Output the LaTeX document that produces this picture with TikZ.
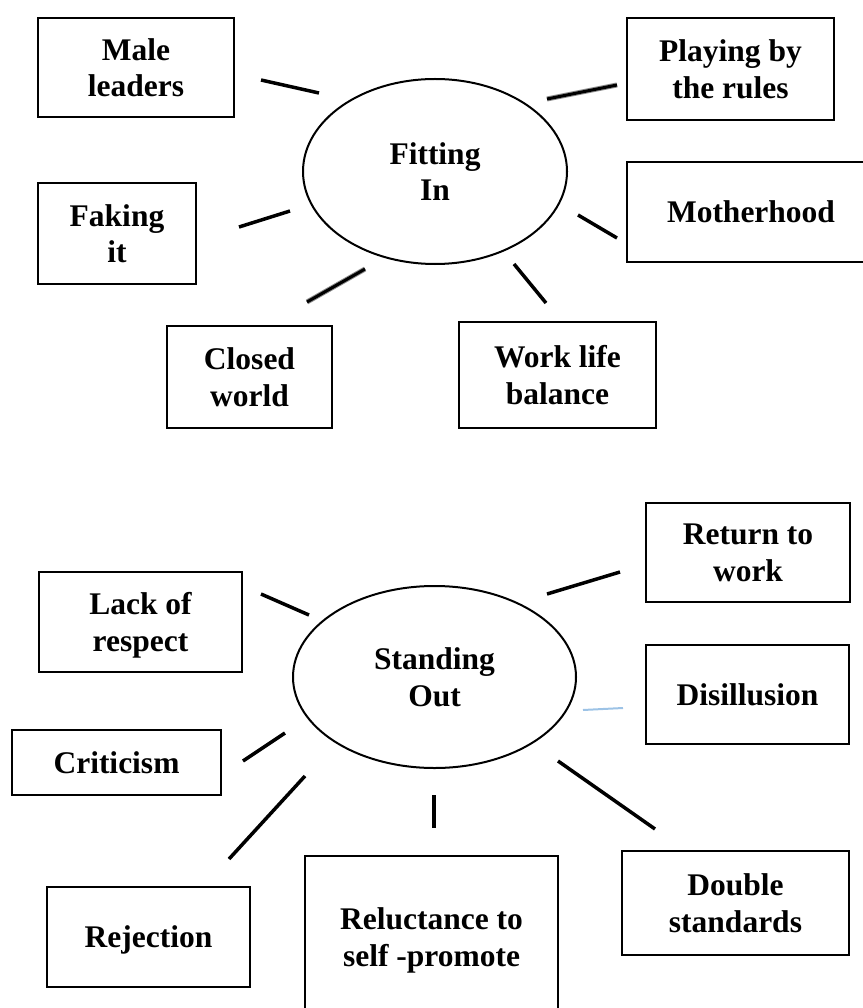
\documentclass[tikz,border=0pt]{standalone}
\usepackage{fontspec}
\setmainfont{Liberation Serif}
\usetikzlibrary{shapes.geometric}

\tikzset{
  lbl/.style={font=\fontsize{31.5}{36.5}\selectfont\bfseries, align=center, text depth=0pt},
  theme/.style={lbl, draw, line width=2pt, inner sep=0pt},
  hub/.style={theme, ellipse},
  topic/.style={theme, rectangle},
  spoke/.style={line width=3.5pt},
  softspoke/.style={line width=5pt, black!45},
  faintspoke/.style={line width=2pt, color={rgb,255:red,157;green,195;blue,230}},
}

\begin{document}
\begin{tikzpicture}[x=1pt, y=-1pt]
\useasboundingbox (0,0) rectangle (862,1008);

% ---------- Fitting In ----------
\node[hub, minimum width=264pt, minimum height=185pt] (fit) at (435,171.5) {Fitting\\In};

\node[topic, minimum width=196pt, minimum height=99pt]  (male)  at (136,67.5)  {Male\\leaders};
\node[topic, minimum width=207pt, minimum height=102pt] (rules) at (730.5,69)  {Playing by\\the rules};
\node[topic, minimum width=158pt, minimum height=101pt] (fake)  at (117,233.5) {Faking\\it};
\node[topic, minimum width=248pt, minimum height=100pt] (mother) at (751,212)  {Motherhood};
\node[topic, minimum width=165pt, minimum height=102pt] (closed) at (249.5,377) {Closed\\world};
\node[topic, minimum width=197pt, minimum height=106pt] (wlb)   at (557.5,375) {Work life\\balance};

\coordinate (m1) at (261,80);   \coordinate (m2) at (319,93);
\coordinate (f1) at (239,227);  \coordinate (f2) at (290,211);
\coordinate (c1) at (307,302);  \coordinate (c2) at (365,269);
\coordinate (p1) at (547,99);   \coordinate (p2) at (617,85);
\coordinate (h1) at (578,215);  \coordinate (h2) at (617,238);
\coordinate (w1) at (514,264);  \coordinate (w2) at (546,303);

\draw[spoke] (m1) -- (m2);
\draw[spoke] (f1) -- (f2);
\draw[softspoke] (c1) -- (c2);
\draw[spoke, line width=3pt] (c1) -- (c2);
\draw[softspoke] (p1) -- (p2);
\draw[spoke, line width=3pt] (p1) -- (p2);
\draw[spoke] (h1) -- (h2);
\draw[spoke] (w1) -- (w2);

% ---------- Standing Out ----------
\node[hub, minimum width=283pt, minimum height=182pt] (out) at (434.5,677) {Standing\\Out};

\node[topic, minimum width=204pt, minimum height=99pt]  (ret)    at (748,552.5)  {Return to\\work};
\node[topic, minimum width=203pt, minimum height=100pt] (lack)   at (140.5,622)  {Lack of\\respect};
\node[topic, minimum width=203pt, minimum height=99pt]  (dis)    at (747.5,694.5) {Disillusion};
\node[topic, minimum width=209pt, minimum height=65pt]  (crit)   at (116.5,762.5) {Criticism};
\node[topic, minimum width=203pt, minimum height=100pt] (rej)    at (148.5,937)  {Rejection};
\node[topic, minimum width=253pt, minimum height=162pt] (rel)    at (431.5,937)  {Reluctance to\\self -promote};
\node[topic, minimum width=227pt, minimum height=104pt] (dbl)    at (735.5,903)  {Double\\standards};

\coordinate (r1) at (547,594);  \coordinate (r2) at (620,572);
\coordinate (l1) at (261,594);  \coordinate (l2) at (309,615);
\coordinate (d1) at (583,710);  \coordinate (d2) at (623,708);
\coordinate (k1) at (243,761);  \coordinate (k2) at (285,733);
\coordinate (j1) at (229,859);  \coordinate (j2) at (305,776);
\coordinate (s1) at (434,795);  \coordinate (s2) at (434,828);
\coordinate (b1) at (558,761);  \coordinate (b2) at (655,829);

\draw[spoke] (r1) -- (r2);
\draw[spoke] (l1) -- (l2);
\draw[faintspoke] (d1) -- (d2);
\draw[spoke] (k1) -- (k2);
\draw[spoke] (j1) -- (j2);
\draw[spoke] (s1) -- (s2);
\draw[spoke] (b1) -- (b2);
\end{tikzpicture}
\end{document}
